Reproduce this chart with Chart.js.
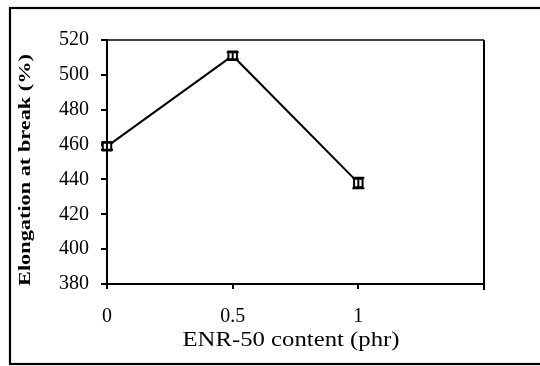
<!DOCTYPE html>
<html>
<head>
<meta charset="utf-8">
<script src="https://cdn.jsdelivr.net/npm/chart.js@4/dist/chart.umd.min.js"></script>
<style>
  html, body { margin: 0; padding: 0; background: #fff; }
  #wrap { width: 540px; height: 366px; position: relative; }
</style>
</head>
<body>
<div id="wrap"><canvas id="c" width="540" height="366"></canvas></div>
<script>
// ENR-50 loading vs. elongation at break
const enrContent = [0, 0.5, 1];
const elongation = [459, 511, 438];
const elongationErr = [2, 2, 3];
const xTicks = [0, 0.5, 1];
const yTicks = [380, 400, 420, 440, 460, 480, 500, 520];
const xTitle = 'ENR-50 content (phr)';
const yTitle = 'Elongation at break (%)';

const SERIF = '"Liberation Serif", "Times New Roman", serif';

// Frame around the whole figure and the plot box
const framePlugin = {
  id: 'frame',
  beforeDraw(chart) {
    const ctx = chart.ctx;
    ctx.save();
    ctx.fillStyle = '#fff';
    ctx.fillRect(0, 0, chart.width, chart.height);
    ctx.strokeStyle = '#000';
    ctx.lineWidth = 2.2;
    ctx.strokeRect(10, 8, 560, 356);
    ctx.restore();
  },
  afterDatasetsDraw(chart) {
    const { ctx, chartArea: a } = chart;
    ctx.save();
    ctx.strokeStyle = '#000';
    ctx.lineWidth = 1.5;
    ctx.beginPath();
    ctx.moveTo(a.left, a.top);
    ctx.lineTo(a.right, a.top);
    ctx.stroke();
    ctx.lineWidth = 2;
    ctx.beginPath();
    ctx.moveTo(a.right, a.top);
    ctx.lineTo(a.right, a.bottom + 6);
    ctx.stroke();
    ctx.restore();
  }
};

// Vertical error bars with caps
const errorBarPlugin = {
  id: 'errorBars',
  afterDatasetsDraw(chart) {
    const ctx = chart.ctx;
    const xs = chart.scales.x, ys = chart.scales.y;
    ctx.save();
    ctx.strokeStyle = '#000';
    ctx.lineWidth = 2;
    enrContent.forEach((xv, i) => {
      const px = xs.getPixelForValue(xv);
      const hi = ys.getPixelForValue(elongation[i] + elongationErr[i]);
      const lo = ys.getPixelForValue(elongation[i] - elongationErr[i]);
      ctx.beginPath();
      ctx.moveTo(px, hi); ctx.lineTo(px, lo);
      ctx.moveTo(px - 6, hi); ctx.lineTo(px + 6, hi);
      ctx.moveTo(px - 6, lo); ctx.lineTo(px + 6, lo);
      ctx.stroke();
    });
    ctx.restore();
  }
};

// Axis titles, stretched along their run to the figure's lettering
function drawStretched(ctx, text, font, cx, cy, angle, runLength) {
  ctx.save();
  ctx.font = font;
  ctx.fillStyle = '#000';
  ctx.textAlign = 'center';
  ctx.textBaseline = 'middle';
  const w = ctx.measureText(text).width;
  ctx.translate(cx, cy);
  ctx.rotate(angle);
  ctx.scale(runLength / w, 1);
  ctx.fillText(text, 0, 0);
  ctx.restore();
}
const titlePlugin = {
  id: 'axisTitles',
  afterDraw(chart) {
    const ctx = chart.ctx;
    drawStretched(ctx, xTitle, '21px ' + SERIF, 291, 340, 0, 217);
    drawStretched(ctx, yTitle, 'bold 17px ' + SERIF, 26, 170, -Math.PI / 2, 232);
  }
};

new Chart(document.getElementById('c'), {
  type: 'line',
  data: {
    datasets: [{
      data: enrContent.map((x, i) => ({ x, y: elongation[i] })),
      borderColor: '#000',
      borderWidth: 2,
      pointStyle: 'rect',
      pointRadius: 6,
      pointBorderWidth: 2,
      pointBorderColor: '#000',
      pointBackgroundColor: '#fff',
      tension: 0,
      clip: false
    }]
  },
  options: {
    responsive: false,
    animation: false,
    devicePixelRatio: 1,
    layout: { padding: { left: 0, top: 40, right: 56, bottom: 0 } },
    plugins: { legend: { display: false }, tooltip: { enabled: false } },
    scales: {
      x: {
        type: 'linear',
        min: 0, max: 1.5,
        afterBuildTicks(s) { s.ticks = xTicks.map(v => ({ value: v })); },
        afterFit(s) { s.height = 82; },
        border: { color: '#000', width: 2 },
        grid: { display: true, drawOnChartArea: false, drawTicks: true, tickLength: 5, color: '#000', lineWidth: 2 },
        ticks: {
          color: '#000',
          font: { family: SERIF, size: 20 },
          padding: 16,
          maxRotation: 0,
          callback: v => String(v)
        }
      },
      y: {
        min: 380, max: 520,
        afterBuildTicks(s) { s.ticks = yTicks.map(v => ({ value: v })); },
        afterFit(s) { s.width = 107; },
        border: { color: '#000', width: 2 },
        grid: { display: true, drawOnChartArea: false, drawTicks: true, tickLength: 6, color: '#000', lineWidth: 2 },
        ticks: {
          color: '#000',
          font: { family: SERIF, size: 20 },
          padding: 12
        }
      }
    }
  },
  plugins: [framePlugin, errorBarPlugin, titlePlugin]
});
</script>
</body>
</html>
